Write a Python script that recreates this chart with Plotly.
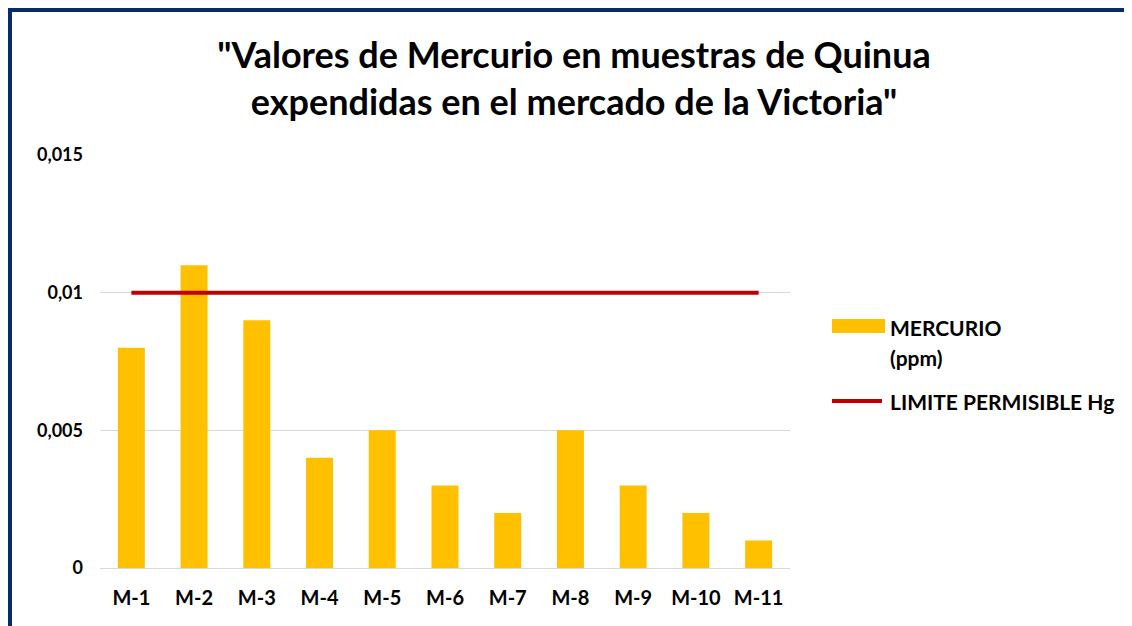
import plotly.graph_objects as go

categories = ["M-1", "M-2", "M-3", "M-4", "M-5", "M-6", "M-7", "M-8", "M-9", "M-10", "M-11"]
mercurio = [0.008, 0.011, 0.009, 0.004, 0.005, 0.003, 0.002, 0.005, 0.003, 0.002, 0.001]
limite = [0.01] * 11
tick_vals = [0, 0.005, 0.01, 0.015]
tick_text = ["0", "0,005", "0,01", "0,015"]
series_names = ["MERCURIO<br>(ppm)", "LIMITE PERMISIBLE Hg"]

OFF = 8  # page body margin
W, H = 1132 - OFF, 626 - OFF
L, T = 100 - OFF, 155 - OFF
R, B = W - (790 - OFF), H - (568 - OFF)
pw, ph = W - L - R, H - T - B

def px(xs):
    return (xs - OFF - L) / pw

def py(ys):
    return (H - B - (ys - OFF)) / ph

FONT = "Lato"
BAR_C = "#FFC000"
LINE_C = "#C00000"
LEG_SIZE = 21

fig = go.Figure()
fig.add_trace(go.Bar(
    x=categories, y=mercurio, name=series_names[0],
    marker=dict(color=BAR_C, line=dict(width=0)), showlegend=False,
))
fig.add_trace(go.Scatter(
    x=categories, y=limite, name=series_names[1], mode="lines",
    line=dict(color=LINE_C, width=4), showlegend=False,
))

shapes = [
    dict(type="rect", xref="paper", yref="paper",
         x0=px(10), x1=px(1160), y0=py(660), y1=py(10),
         line=dict(color="#0B2A6B", width=4), layer="above"),
    # legend symbols
    dict(type="rect", xref="paper", yref="paper",
         x0=px(832), x1=px(885), y0=py(333), y1=py(319),
         fillcolor=BAR_C, line=dict(width=0)),
    dict(type="line", xref="paper", yref="paper",
         x0=px(832), x1=px(882), y0=py(401), y1=py(401),
         line=dict(color=LINE_C, width=4)),
]
leg_font = dict(size=LEG_SIZE, family=FONT, color="black")
annotations = [
    dict(xref="paper", yref="paper", x=px(888), y=py(327), xanchor="left", yanchor="middle",
         text="<b>MERCURIO</b>", showarrow=False, font=leg_font),
    dict(xref="paper", yref="paper", x=px(888), y=py(357), xanchor="left", yanchor="middle",
         text="<b>(ppm)</b>", showarrow=False, font=leg_font),
    dict(xref="paper", yref="paper", x=px(888), y=py(401), xanchor="left", yanchor="middle",
         text="<b>" + series_names[1] + "</b>", showarrow=False, font=leg_font),
]

fig.update_layout(
    width=W, height=H,
    margin=dict(l=L, r=R, t=T, b=B),
    paper_bgcolor="white", plot_bgcolor="white",
    bargap=0.57,
    font=dict(family=FONT, color="black"),
    title=dict(
        text="<b>\"Valores de Mercurio en muestras de Quinua<br>expendidas en el mercado de la Victoria\"</b>",
        x=(574 - OFF) / W, xanchor="center", y=1 - 60 / H, yanchor="middle",
        font=dict(size=36, family=FONT, color="black"),
    ),
    xaxis=dict(
        showgrid=False, showline=True, linecolor="#D9D9D9", linewidth=1,
        tickmode="array", tickvals=categories, ticktext=["<b>%s</b>" % c for c in categories],
        tickfont=dict(size=20, family=FONT, color="black"), ticks="",
        ticklabelstandoff=12,
    ),
    yaxis=dict(
        range=[0, 0.015], tickvals=tick_vals, ticktext=["<b>%s</b>" % t for t in tick_text],
        showgrid=True, gridcolor="#D9D9D9", gridwidth=1, zeroline=False,
        tickfont=dict(size=18, family=FONT, color="black"), ticks="",
        ticklabelstandoff=16,
    ),
    showlegend=False,
    shapes=shapes,
    annotations=annotations,
)
fig.write_html("out.html")
